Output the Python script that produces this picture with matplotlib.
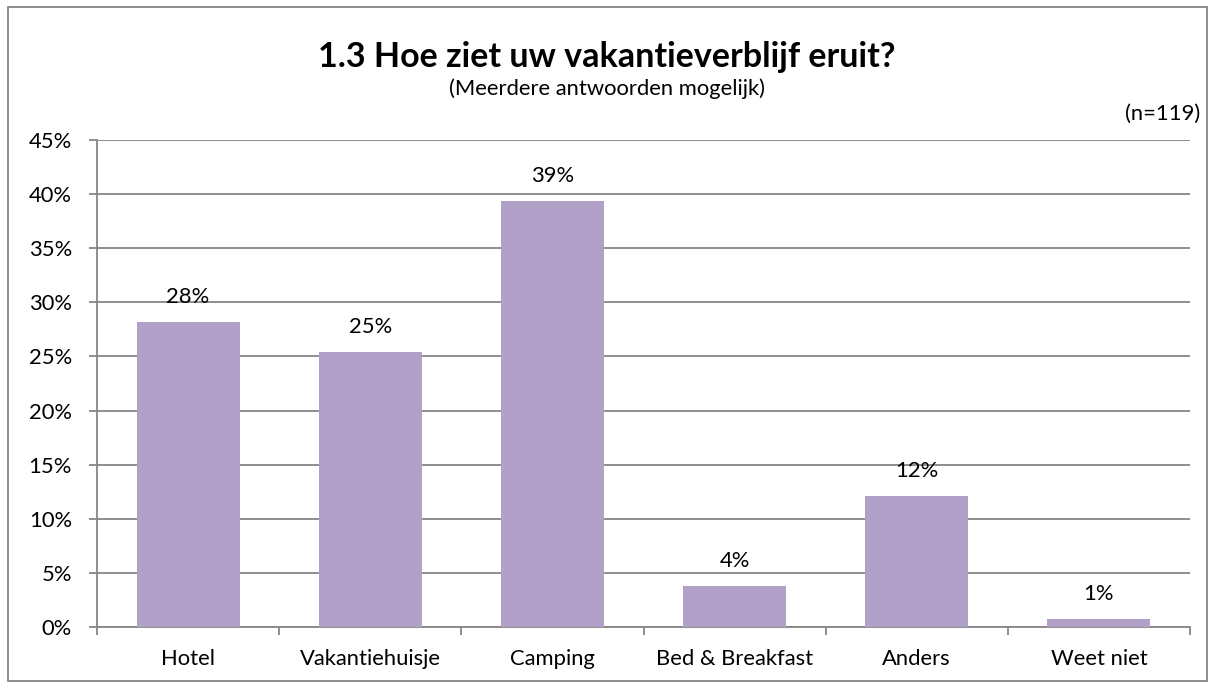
import matplotlib
matplotlib.use("Agg")
import matplotlib.pyplot as plt
from matplotlib.patches import Rectangle
from matplotlib.ticker import FuncFormatter, FixedLocator

categories = ["Hotel", "Vakantiehuisje", "Camping", "Bed & Breakfast", "Anders", "Weet niet"]
values = [28.2, 25.4, 39.4, 3.8, 12.1, 0.7]
labels = ["28%", "25%", "39%", "4%", "12%", "1%"]

title = "1.3 Hoe ziet uw vakantieverblijf eruit?"
subtitle = "(Meerdere antwoorden mogelijk)"
n_note = "(n=119)"

plt.rcParams["font.family"] = ["Lato", "DejaVu Sans"]
W, H = 1215, 684
grid_col = "#868686"
bar_col = "#B1A0C7"
fs = 15.8

fig = plt.figure(figsize=(W / 100, H / 100), dpi=100)
ax = fig.add_axes([97 / W, 1 - 627 / H, (1190 - 97) / W, (627 - 140) / H])

x = list(range(len(categories)))
ax.bar(x, values, width=0.565, color=bar_col, zorder=3)
for xi, v, lab in zip(x, values, labels):
    ax.annotate(lab, (xi, v), xytext=(0, 18), textcoords="offset points",
                ha="center", va="center", fontsize=fs, color="black", zorder=4)

ax.set_xlim(-0.5, len(categories) - 0.5)
ax.set_ylim(0, 45)
ax.set_yticks(range(0, 50, 5))
ax.yaxis.set_major_formatter(FuncFormatter(lambda v, p: f"{int(v)}%"))
ax.grid(axis="y", color=grid_col, lw=1.3, zorder=0)

ax.set_xticks(x)
ax.set_xticklabels(categories)
ax.xaxis.set_minor_locator(FixedLocator([i - 0.5 for i in range(len(categories) + 1)]))
ax.tick_params(axis="x", which="major", length=0, pad=16, labelsize=fs)
ax.tick_params(axis="x", which="minor", length=6, width=1.3, color=grid_col)
ax.tick_params(axis="y", length=6, width=1.3, color=grid_col, pad=12, labelsize=fs)

for side in ["top", "right"]:
    ax.spines[side].set_visible(False)
for side in ["left", "bottom"]:
    ax.spines[side].set_color(grid_col)
    ax.spines[side].set_linewidth(1.3)

fig.text(607 / W, 1 - 57 / H, title, ha="center", va="center",
         fontsize=24.5, fontweight="bold")
fig.text(607 / W, 1 - 89 / H, subtitle, ha="center", va="center", fontsize=fs)
fig.text(1200 / W, 1 - 114 / H, n_note, ha="right", va="center", fontsize=fs)

fig.patches.append(Rectangle((8 / W, 1 - 681 / H), (1207 - 8) / W, (681 - 7) / H,
                             transform=fig.transFigure, fill=False,
                             edgecolor=grid_col, lw=1.3))

fig.savefig("out.png", dpi=100)
plt.close(fig)
